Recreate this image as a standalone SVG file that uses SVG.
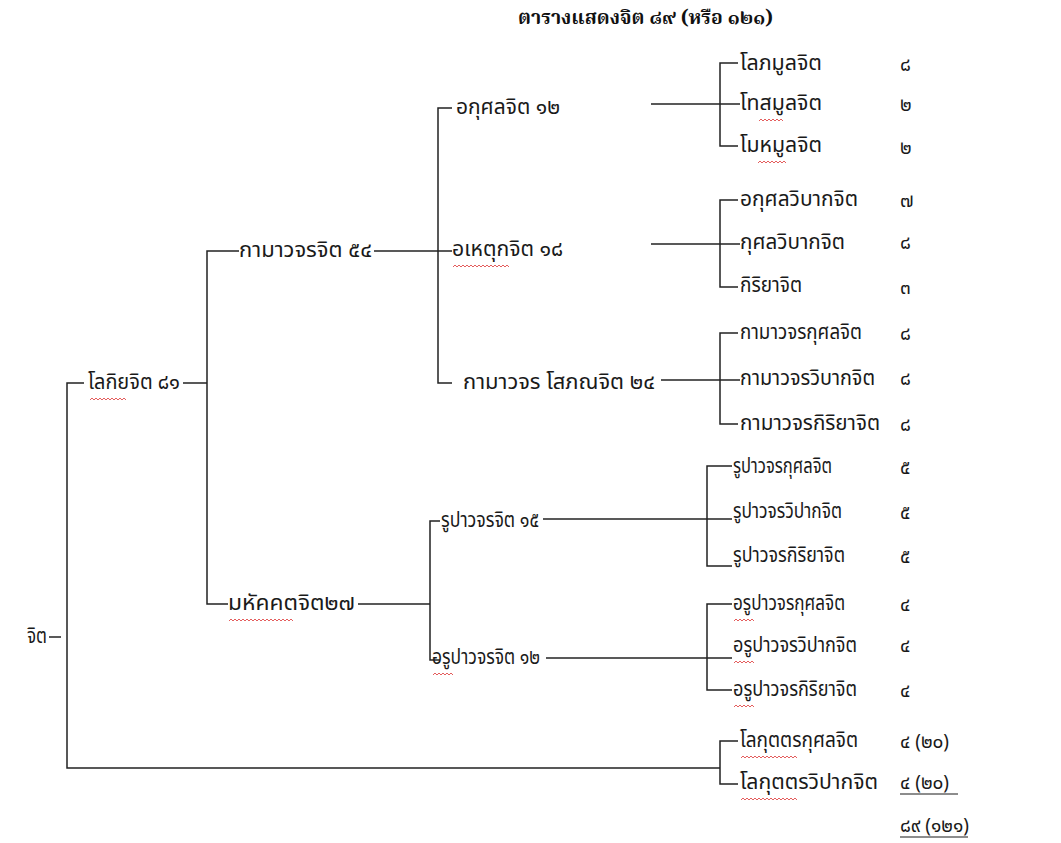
<svg xmlns="http://www.w3.org/2000/svg" width="1061" height="843" viewBox="0 0 1061 843">
<style>
.t{font-family:"Noto Sans Thai","Noto Serif Thai","Loma","Garuda","Tlwg Typo","Noto Sans",sans-serif;font-size:21px;fill:#1a1a1a}
.n{font-family:"Noto Sans Thai","Loma","Garuda","Noto Sans",sans-serif;font-size:19px;fill:#1a1a1a}
.title{font-family:"Noto Serif Thai","Noto Sans Thai","Loma","Noto Sans",serif;font-size:19.5px;font-weight:bold;fill:#111}
.c{fill:none;stroke:#222;stroke-width:1.5}
.sq{fill:none;stroke:#d33;stroke-width:0.8}
.u{stroke:#1a1a1a;stroke-width:1}
</style>
<rect width="1061" height="843" fill="#fff"/>
<text class="title" x="518" y="24" textLength="255" lengthAdjust="spacingAndGlyphs">ตารางแสดงจิต ๘๙ (หรือ ๑๒๑)</text>

<g id="connectors">
<path class="c" d="M49 637 H61"/>
<path class="c" d="M84 383 H67 V768 H720"/>
<path class="c" d="M183 383 H207"/>
<path class="c" d="M239 251 H207 V604 H228"/>
<path class="c" d="M374 251 H452"/>
<path class="c" d="M452 108 H438 V383 H452"/>
<path class="c" d="M651 104 H740"/>
<path class="c" d="M738 63 H720 V146 H738"/>
<path class="c" d="M651 244 H740"/>
<path class="c" d="M738 200 H720 V287 H738"/>
<path class="c" d="M661 380 H740"/>
<path class="c" d="M738 333 H720 V424 H738"/>
<path class="c" d="M358 604 H430"/>
<path class="c" d="M440 521 H430 V660 H440"/>
<path class="c" d="M543 519 H732"/>
<path class="c" d="M732 466 H707 V566 H732"/>
<path class="c" d="M546 658 H732"/>
<path class="c" d="M732 604 H707 V690 H732"/>
<path class="c" d="M738 741 H720 V784 H738"/>
</g>

<g id="n-root"><text class="t" x="27" y="643" textLength="20" lengthAdjust="spacingAndGlyphs">จิต</text></g>
<g id="n-lokiya"><text class="t" x="88" y="389" textLength="92" lengthAdjust="spacingAndGlyphs">โลกิยจิต ๘๑</text></g>
<g id="n-kama"><text class="t" x="239" y="257" textLength="133" lengthAdjust="spacingAndGlyphs">กามาวจรจิต ๕๔</text></g>
<g id="n-mahaggata"><text class="t" x="228" y="610" textLength="127" lengthAdjust="spacingAndGlyphs">มหัคคตจิต๒๗</text></g>
<g id="n-akusala"><text class="t" x="456" y="114" textLength="104" lengthAdjust="spacingAndGlyphs">อกุศลจิต ๑๒</text></g>
<g id="n-ahetuka"><text class="t" x="452" y="256" textLength="111" lengthAdjust="spacingAndGlyphs">อเหตุกจิต ๑๘</text></g>
<g id="n-sobhana"><text class="t" x="463" y="389" textLength="192" lengthAdjust="spacingAndGlyphs">กามาวจร โสภณจิต ๒๔</text></g>
<g id="n-rupa"><text class="t" x="441" y="527" textLength="98" lengthAdjust="spacingAndGlyphs">รูปาวจรจิต ๑๕</text></g>
<g id="n-arupa"><text class="t" x="432" y="664" textLength="108" lengthAdjust="spacingAndGlyphs">อรูปาวจรจิต ๑๒</text></g>

<g id="n-lobha"><text class="t" x="740" y="70" textLength="82" lengthAdjust="spacingAndGlyphs">โลภมูลจิต</text><text class="n" x="900" y="71">๘</text></g>
<g id="n-dosa"><text class="t" x="740" y="110" textLength="82" lengthAdjust="spacingAndGlyphs">โทสมูลจิต</text><text class="n" x="900" y="111">๒</text></g>
<g id="n-moha"><text class="t" x="740" y="152" textLength="82" lengthAdjust="spacingAndGlyphs">โมหมูลจิต</text><text class="n" x="900" y="154">๒</text></g>
<g id="n-akvipaka"><text class="t" x="740" y="206" textLength="118" lengthAdjust="spacingAndGlyphs">อกุศลวิบากจิต</text><text class="n" x="900" y="207">๗</text></g>
<g id="n-kvipaka"><text class="t" x="740" y="249" textLength="105" lengthAdjust="spacingAndGlyphs">กุศลวิบากจิต</text><text class="n" x="900" y="249">๘</text></g>
<g id="n-kiriya"><text class="t" x="740" y="292" textLength="62" lengthAdjust="spacingAndGlyphs">กิริยาจิต</text><text class="n" x="900" y="294">๓</text></g>
<g id="n-kk"><text class="t" x="740" y="339" textLength="122" lengthAdjust="spacingAndGlyphs">กามาวจรกุศลจิต</text><text class="n" x="900" y="340">๘</text></g>
<g id="n-kv"><text class="t" x="740" y="385" textLength="135" lengthAdjust="spacingAndGlyphs">กามาวจรวิบากจิต</text><text class="n" x="900" y="385">๘</text></g>
<g id="n-kr"><text class="t" x="740" y="430" textLength="140" lengthAdjust="spacingAndGlyphs">กามาวจรกิริยาจิต</text><text class="n" x="900" y="431">๘</text></g>
<g id="n-rk"><text class="t" x="733" y="473" textLength="99" lengthAdjust="spacingAndGlyphs">รูปาวจรกุศลจิต</text><text class="n" x="900" y="474">๕</text></g>
<g id="n-rv"><text class="t" x="733" y="518" textLength="109" lengthAdjust="spacingAndGlyphs">รูปาวจรวิปากจิต</text><text class="n" x="900" y="519">๕</text></g>
<g id="n-rr"><text class="t" x="733" y="562" textLength="112" lengthAdjust="spacingAndGlyphs">รูปาวจรกิริยาจิต</text><text class="n" x="900" y="563">๕</text></g>
<g id="n-ak"><text class="t" x="733" y="610" textLength="112" lengthAdjust="spacingAndGlyphs">อรูปาวจรกุศลจิต</text><text class="n" x="900" y="611">๔</text></g>
<g id="n-av"><text class="t" x="733" y="652" textLength="124" lengthAdjust="spacingAndGlyphs">อรูปาวจรวิปากจิต</text><text class="n" x="900" y="652">๔</text></g>
<g id="n-ar"><text class="t" x="733" y="696" textLength="124" lengthAdjust="spacingAndGlyphs">อรูปาวจรกิริยาจิต</text><text class="n" x="900" y="697">๔</text></g>
<g id="n-lk"><text class="t" x="740" y="747" textLength="118" lengthAdjust="spacingAndGlyphs">โลกุตตรกุศลจิต</text><text class="n" x="900" y="748">๔ (๒๐)</text></g>
<g id="n-lv"><text class="t" x="740" y="789" textLength="138" lengthAdjust="spacingAndGlyphs">โลกุตตรวิปากจิต</text><text class="n" x="900" y="789">๔ (๒๐)</text><line class="u" x1="900" y1="794" x2="958" y2="794"/></g>
<g id="n-total"><text class="n" x="900" y="832">๘๙ (๑๒๑)</text><line class="u" x1="900" y1="837" x2="968" y2="837"/></g>

<g id="spellcheck">
<path class="sq" d="M90 400 l2 -2 l2 2 l2 -2 l2 2 l2 -2 l2 2 l2 -2 l2 2 l2 -2 l2 2 l2 -2 l2 2 l2 -2 l2 2 l2 -2 l2 2 l2 -2 l2 2"/>
<path class="sq" d="M453 267 l2 -2 l2 2 l2 -2 l2 2 l2 -2 l2 2 l2 -2 l2 2 l2 -2 l2 2 l2 -2 l2 2 l2 -2 l2 2 l2 -2 l2 2 l2 -2 l2 2 l2 -2 l2 2 l2 -2 l2 2 l2 -2 l2 2 l2 -2 l2 2 l2 -2 l2 2"/>
<path class="sq" d="M759 121 l2 -2 l2 2 l2 -2 l2 2 l2 -2 l2 2 l2 -2 l2 2 l2 -2 l2 2 l2 -2 l2 2"/>
<path class="sq" d="M758 163 l2 -2 l2 2 l2 -2 l2 2 l2 -2 l2 2 l2 -2 l2 2 l2 -2 l2 2 l2 -2 l2 2 l2 -2 l2 2"/>
<path class="sq" d="M229 621 l2 -2 l2 2 l2 -2 l2 2 l2 -2 l2 2 l2 -2 l2 2 l2 -2 l2 2 l2 -2 l2 2 l2 -2 l2 2 l2 -2 l2 2 l2 -2 l2 2 l2 -2 l2 2 l2 -2 l2 2 l2 -2 l2 2 l2 -2 l2 2 l2 -2 l2 2 l2 -2 l2 2 l2 -2 l2 2"/>
<path class="sq" d="M433 675 l2 -2 l2 2 l2 -2 l2 2 l2 -2 l2 2 l2 -2 l2 2 l2 -2 l2 2"/>
<path class="sq" d="M734 621 l2 -2 l2 2 l2 -2 l2 2 l2 -2 l2 2 l2 -2 l2 2 l2 -2 l2 2"/>
<path class="sq" d="M734 663 l2 -2 l2 2 l2 -2 l2 2 l2 -2 l2 2 l2 -2 l2 2 l2 -2 l2 2"/>
<path class="sq" d="M734 707 l2 -2 l2 2 l2 -2 l2 2 l2 -2 l2 2 l2 -2 l2 2 l2 -2 l2 2"/>
<path class="sq" d="M741 758 l2 -2 l2 2 l2 -2 l2 2 l2 -2 l2 2 l2 -2 l2 2 l2 -2 l2 2 l2 -2 l2 2 l2 -2 l2 2 l2 -2 l2 2 l2 -2 l2 2 l2 -2 l2 2 l2 -2 l2 2 l2 -2 l2 2 l2 -2 l2 2 l2 -2 l2 2"/>
<path class="sq" d="M741 800 l2 -2 l2 2 l2 -2 l2 2 l2 -2 l2 2 l2 -2 l2 2 l2 -2 l2 2 l2 -2 l2 2 l2 -2 l2 2 l2 -2 l2 2 l2 -2 l2 2 l2 -2 l2 2 l2 -2 l2 2 l2 -2 l2 2 l2 -2 l2 2 l2 -2 l2 2"/>
</g>
</svg>
